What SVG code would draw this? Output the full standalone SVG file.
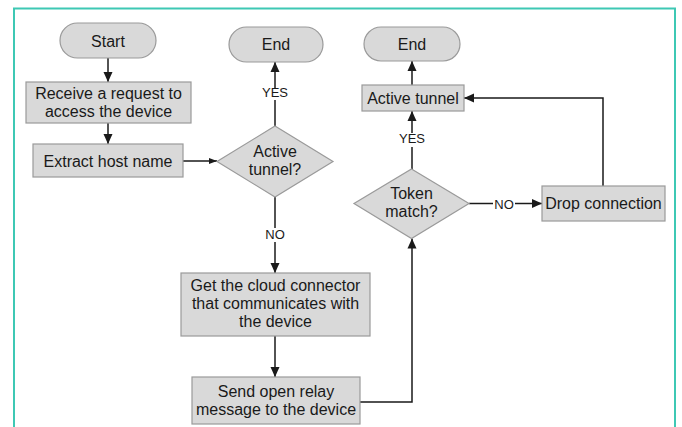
<svg xmlns="http://www.w3.org/2000/svg" width="682" height="427" viewBox="0 0 682 427">
<style>
.shape{fill:#d9d9d9;stroke:#9a9a9a;stroke-width:1.2}
.t{font-family:"Liberation Sans",Arial,sans-serif;font-size:16px;fill:#1a1a1a;text-anchor:middle}
.lbl{font-family:"Liberation Sans",Arial,sans-serif;font-size:13px;fill:#1a1a1a;text-anchor:middle}
.c{fill:none;stroke:#1a1a1a;stroke-width:1.5}
.frame{fill:none;stroke:#3ec8b4;stroke-width:2}
</style>
<defs>
<marker id="ah" markerUnits="userSpaceOnUse" markerWidth="10" markerHeight="10" refX="10" refY="5" orient="auto">
<path d="M0,0.5 L10,5 L0,9.5 z" fill="#1a1a1a"/>
</marker>
<marker id="ahs" markerUnits="userSpaceOnUse" markerWidth="8" markerHeight="7" refX="8" refY="3.5" orient="auto">
<path d="M0,0.5 L8,3.5 L0,6.5 z" fill="#1a1a1a"/>
</marker>
</defs>
<rect width="682" height="427" fill="#ffffff"/>
<path class="frame" d="M14,430 L14,8.5 L675,8.5 L675,430"/>

<g id="connectors">
<path class="c" d="M108,58 L108,82" marker-end="url(#ah)"/>
<path class="c" d="M108,123 L108,144" marker-end="url(#ah)"/>
<path class="c" d="M183,161 L217,161" marker-end="url(#ahs)"/>
<path class="c" d="M275,126 L275,100"/>
<path class="c" d="M275,88 L275,62" marker-end="url(#ah)"/>
<text class="lbl" x="275" y="97">YES</text>
<path class="c" d="M275,197 L275,228"/>
<text class="lbl" x="275" y="239">NO</text>
<path class="c" d="M275,242 L275,273" marker-end="url(#ah)"/>
<path class="c" d="M275,336 L275,377" marker-end="url(#ah)"/>
<path class="c" d="M360,402 L412,402 L412,238.5" marker-end="url(#ah)"/>
<path class="c" d="M412,169 L412,147"/>
<text class="lbl" x="412" y="143">YES</text>
<path class="c" d="M412,133 L412,111" marker-end="url(#ah)"/>
<path class="c" d="M412,85 L412,61" marker-end="url(#ah)"/>
<path class="c" d="M469,203.5 L493,203.5"/>
<text class="lbl" x="504" y="208.5">NO</text>
<path class="c" d="M515,203.5 L542,203.5" marker-end="url(#ah)"/>
<path class="c" d="M603,186 L603,98 L464,98" marker-end="url(#ah)"/>
</g>

<g id="start">
<rect class="shape" x="60" y="23" width="96" height="35" rx="17.5"/>
<text class="t" x="108" y="46.5">Start</text>
</g>
<g id="receive">
<rect class="shape" x="26" y="82" width="165" height="41"/>
<text class="t" x="108.5" y="99">Receive a request to</text>
<text class="t" x="108.5" y="117">access the device</text>
</g>
<g id="extract">
<rect class="shape" x="33" y="144" width="150" height="33"/>
<text class="t" x="108" y="166.5">Extract host name</text>
</g>
<g id="active-tunnel-q">
<polygon class="shape" points="275,126 333,161.5 275,197 217,161.5"/>
<text class="t" x="275" y="157">Active</text>
<text class="t" x="275" y="175">tunnel?</text>
</g>
<g id="end1">
<rect class="shape" x="229" y="27" width="94" height="35" rx="17.5"/>
<text class="t" x="276" y="50">End</text>
</g>
<g id="get-connector">
<rect class="shape" x="181" y="273" width="189" height="63"/>
<text class="t" x="275.5" y="291">Get the cloud connector</text>
<text class="t" x="275.5" y="309">that communicates with</text>
<text class="t" x="275.5" y="327">the device</text>
</g>
<g id="send-relay">
<rect class="shape" x="192" y="377" width="168" height="47"/>
<text class="t" x="276" y="397">Send open relay</text>
<text class="t" x="276" y="415">message to the device</text>
</g>
<g id="token-match">
<polygon class="shape" points="411.5,169 469,203.5 411.5,238.5 354,203.5"/>
<text class="t" x="411.5" y="199">Token</text>
<text class="t" x="411.5" y="217">match?</text>
</g>
<g id="active-tunnel">
<rect class="shape" x="362" y="85" width="102" height="26"/>
<text class="t" x="413" y="103.5">Active tunnel</text>
</g>
<g id="end2">
<rect class="shape" x="364" y="27" width="96" height="34" rx="17"/>
<text class="t" x="412" y="50">End</text>
</g>
<g id="drop-connection">
<rect class="shape" x="542" y="186" width="123" height="35"/>
<text class="t" x="603.5" y="209">Drop connection</text>
</g>
</svg>
